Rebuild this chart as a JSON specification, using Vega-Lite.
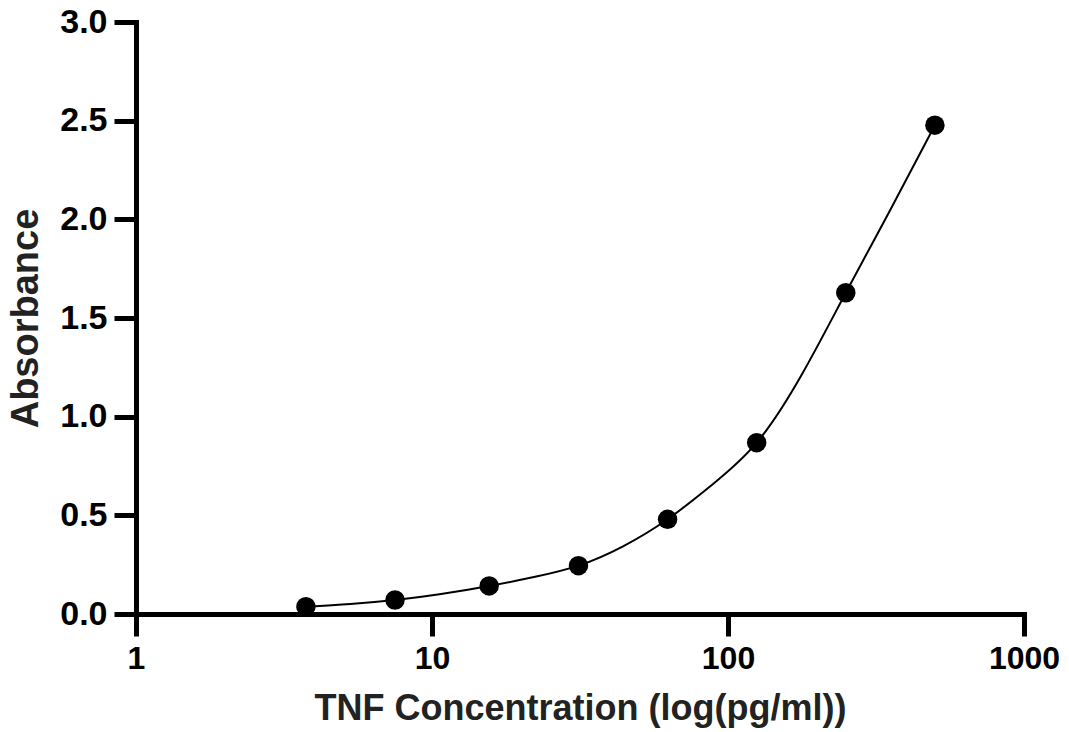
{
  "$schema": "https://vega.github.io/schema/vega-lite/v6.json",
  "width": 888,
  "height": 592,
  "autosize": {"type": "none"},
  "padding": {"left": 136, "top": 22, "right": 45, "bottom": 118},
  "background": "white",
  "config": {"view": {"stroke": null}, "font": "Liberation Sans"},
  "datasets": {
    "points": [
      {"conc": 3.75, "abs": 0.037},
      {"conc": 7.5, "abs": 0.071},
      {"conc": 15.6, "abs": 0.142},
      {"conc": 31.25, "abs": 0.245},
      {"conc": 62.5, "abs": 0.48},
      {"conc": 125, "abs": 0.868},
      {"conc": 250, "abs": 1.628},
      {"conc": 500, "abs": 2.477}
    ],
    "curve": [
      {"conc": 3.75, "abs": 0.037},
      {"conc": 5.3, "abs": 0.051},
      {"conc": 7.5, "abs": 0.071},
      {"conc": 10.6, "abs": 0.1},
      {"conc": 15.6, "abs": 0.142},
      {"conc": 22.1, "abs": 0.187},
      {"conc": 31.25, "abs": 0.245},
      {"conc": 44.2, "abs": 0.343},
      {"conc": 62.5, "abs": 0.48},
      {"conc": 88.4, "abs": 0.655},
      {"conc": 125, "abs": 0.868},
      {"conc": 177, "abs": 1.21},
      {"conc": 250, "abs": 1.628},
      {"conc": 354, "abs": 2.05},
      {"conc": 500, "abs": 2.477}
    ]
  },
  "layer": [
    {
      "data": {"name": "curve"},
      "mark": {"type": "line", "interpolate": "natural", "color": "black", "strokeWidth": 2},
      "encoding": {
        "x": {
          "field": "conc", "type": "quantitative",
          "scale": {"type": "log", "domain": [1, 1000], "nice": false},
          "axis": {
            "values": [1, 10, 100, 1000], "format": "d",
            "title": "TNF Concentration (log(pg/ml))",
            "grid": false, "labelFlush": false,
            "domainColor": "black", "domainWidth": 5, "domainCap": "square",
            "tickColor": "black", "tickWidth": 5, "tickSize": 22,
            "labelFont": "Liberation Sans", "labelFontSize": 32, "labelFontWeight": "bold", "labelColor": "black",
            "labelPadding": 7,
            "titleFont": "Liberation Sans", "titleFontSize": 36, "titleFontWeight": "bold", "titleColor": "#222222",
            "titlePadding": 17
          }
        },
        "y": {
          "field": "abs", "type": "quantitative",
          "scale": {"domain": [0, 3], "nice": false, "zero": true},
          "axis": {
            "values": [0, 0.5, 1, 1.5, 2, 2.5, 3], "format": ".1f",
            "title": "Absorbance",
            "grid": false, "labelFlush": false,
            "domainColor": "black", "domainWidth": 5, "domainCap": "square",
            "tickColor": "black", "tickWidth": 5, "tickSize": 22,
            "labelFont": "Liberation Sans", "labelFontSize": 34, "labelFontWeight": "bold", "labelColor": "black",
            "labelPadding": 7,
            "titleFont": "Liberation Sans", "titleFontSize": 38, "titleFontWeight": "bold", "titleColor": "#222222",
            "titlePadding": 14
          }
        }
      }
    },
    {
      "data": {"name": "points"},
      "mark": {"type": "point", "shape": "circle", "filled": true, "size": 380, "color": "black", "opacity": 1},
      "encoding": {
        "x": {"field": "conc", "type": "quantitative"},
        "y": {"field": "abs", "type": "quantitative"}
      }
    }
  ]
}
